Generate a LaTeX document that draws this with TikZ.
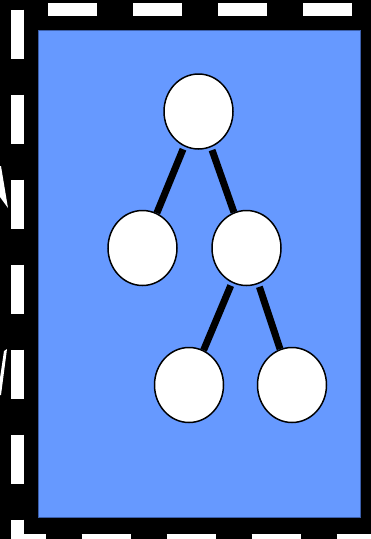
\documentclass[tikz,border=0pt]{standalone}
\usetikzlibrary{shapes.geometric}
\definecolor{panel}{RGB}{102,153,255}
\definecolor{panelrim}{RGB}{60,95,170}
\begin{document}
\begin{tikzpicture}
[x=1pt, y=-1pt,
% STYLES
% The vertex style is used to draw the tree's nodes
vertex/.style={ellipse, draw, fill=white, line width=1.5pt, minimum width=69pt, minimum height=75pt, inner sep=0pt},
% The branch style is used to draw the links between them
branch/.style={line width=7pt, shorten <=3pt}]

\useasboundingbox (0,0) rectangle (371,539);
\clip (0,0) rectangle (371,539);

% Draw frame
\fill [black] (0,0) rectangle (371,539);
\draw [white, line width=13pt, dash pattern=on 49pt off 36pt] (17.5,9.5) -- (17.5,540.5) -- (418.75,540.5) -- (418.75,9.5) -- cycle;
\fill [white] (0,166) -- (1,166) -- (8,208) -- (0,197) -- cycle;
\fill [white] (4,351) -- (7,349) -- (1,395) -- (0,395) -- (0,378) -- cycle;
\draw [fill=panel, draw=panelrim, line width=1pt] (38,30) rectangle (360,517);

% Draw tree
\node [vertex] (root)  at (198.5,111.5) {};
\node [vertex] (kidA)  at (142.5,248) {};
\node [vertex] (kidB)  at (246.5,248) {};
\node [vertex] (leafA) at (189,385) {};
\node [vertex] (leafB) at (292,385) {};

\draw [branch] (root) -- (kidA);
\draw [branch] (root) -- (kidB);
\draw [branch] (kidB) -- (leafA);
\draw [branch] (kidB) -- (leafB);

\end{tikzpicture}
\end{document}
